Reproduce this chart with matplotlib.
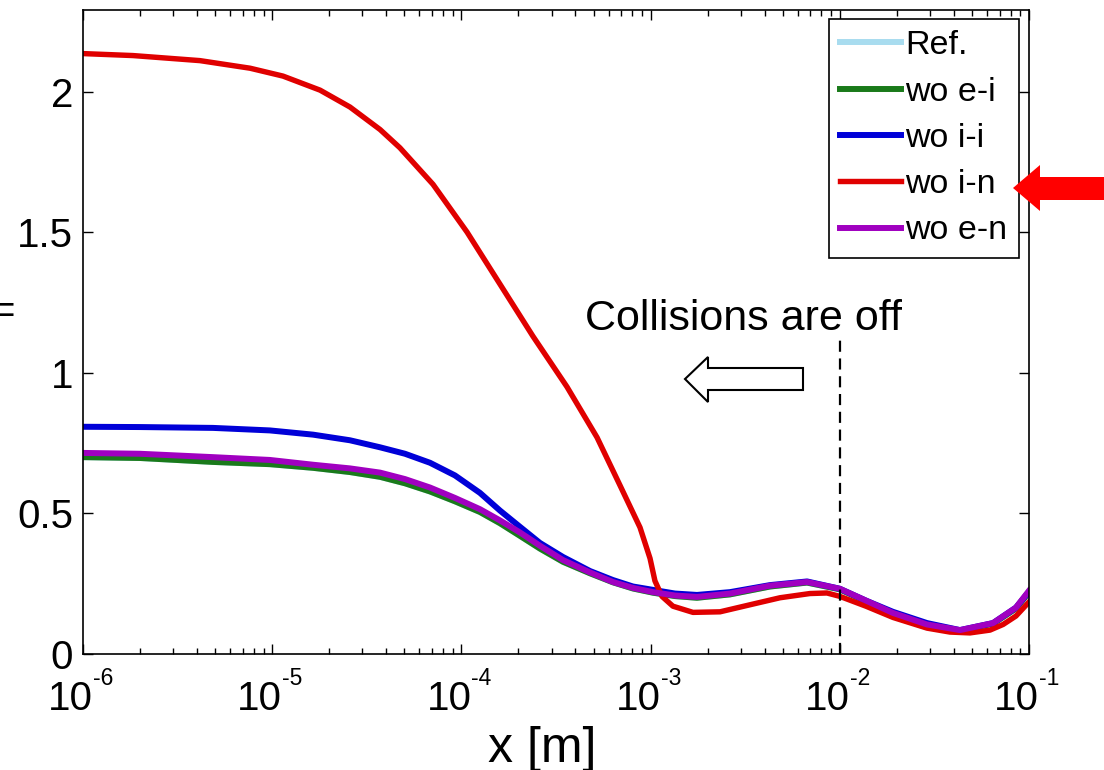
import numpy as np
import matplotlib
matplotlib.use('Agg')
import matplotlib.pyplot as plt
from matplotlib.patches import Polygon
from matplotlib.ticker import LogLocator, FixedLocator, FuncFormatter, NullFormatter
from matplotlib.transforms import ScaledTranslation

plt.rcParams['font.family'] = ['Liberation Sans', 'DejaVu Sans']

# x positions as log10(x [m])
x_cmn = [-6.0, -5.699, -5.313, -5.012, -4.784, -4.589, -4.430, -4.298,
         -4.166, -4.034, -3.902, -3.796, -3.690, -3.585, -3.463, -3.320,
         -3.199, -3.093, -2.987, -2.871, -2.755, -2.580, -2.369, -2.173,
         -2.0, -1.862, -1.719, -1.539, -1.365, -1.190, -1.069, -1.0]
y_woei = [0.70, 0.697, 0.683, 0.675, 0.662, 0.647, 0.63, 0.607,
          0.578, 0.543, 0.505, 0.465, 0.42, 0.375, 0.328, 0.287,
          0.255, 0.233, 0.218, 0.206, 0.20, 0.212, 0.24, 0.254,
          0.23, 0.188, 0.144, 0.103, 0.083, 0.108, 0.162, 0.22]
y_ref = list(y_woei)  # hidden under the other curves
y_woii = [0.808, 0.807, 0.804, 0.795, 0.78, 0.76, 0.735, 0.712,
          0.68, 0.635, 0.573, 0.51, 0.452, 0.395, 0.345, 0.295,
          0.263, 0.24, 0.228, 0.215, 0.21, 0.22, 0.245, 0.258,
          0.232, 0.19, 0.15, 0.11, 0.085, 0.11, 0.165, 0.222]
y_woen = [0.715, 0.712, 0.70, 0.69, 0.673, 0.66, 0.645, 0.622,
          0.592, 0.555, 0.515, 0.475, 0.432, 0.385, 0.334, 0.29,
          0.256, 0.235, 0.22, 0.208, 0.203, 0.215, 0.243, 0.256,
          0.232, 0.19, 0.146, 0.105, 0.085, 0.11, 0.165, 0.225]

x_woin = [-6.0, -5.736, -5.382, -5.117, -4.943, -4.747, -4.589, -4.430,
          -4.325, -4.150, -3.970, -3.796, -3.622, -3.442, -3.283, -3.162,
          -3.056, -3.003, -2.977, -2.940, -2.882, -2.776, -2.633, -2.475,
          -2.316, -2.158, -2.068, -2.0, -1.862, -1.719, -1.539, -1.418,
          -1.312, -1.206, -1.137, -1.069, -1.0]
y_woin = [2.135, 2.128, 2.11, 2.083, 2.055, 2.005, 1.945, 1.865,
          1.80, 1.67, 1.50, 1.315, 1.13, 0.95, 0.77, 0.60,
          0.45, 0.34, 0.26, 0.205, 0.17, 0.148, 0.15, 0.175,
          0.2, 0.215, 0.217, 0.205, 0.17, 0.13, 0.092, 0.078,
          0.075, 0.085, 0.105, 0.135, 0.185]

labels = ['Ref.', 'wo e-i', 'wo i-i', 'wo i-n', 'wo e-n']
colors = ['#a8dcef', '#1a7a1a', '#0000d8', '#e00000', '#a000c0']
xtick_exp = [-6, -5, -4, -3, -2, -1]
yticks = [0, 0.5, 1, 1.5, 2]

vline_x = 1e-2
vline_top = 1.12

fig = plt.figure(figsize=(11.04, 7.7), dpi=100)
ax = fig.add_axes([83/1104, 1-654/770, 946/1104, 644/770])

xc = np.power(10.0, x_cmn)
xr = np.power(10.0, x_woin)
lw = 4.3
ax.plot(xc, y_ref, color=colors[0], lw=lw, label=labels[0])
ax.plot(xc, y_woei, color=colors[1], lw=lw, label=labels[1])
ax.plot(xc, y_woii, color=colors[2], lw=lw, label=labels[2])
ax.plot(xr, y_woin, color=colors[3], lw=3.9, label=labels[3])
ax.plot(xc, y_woen, color=colors[4], lw=lw, label=labels[4])

ax.plot([vline_x, vline_x], [0, vline_top], color='k', lw=1.6,
        linestyle=(0, (5, 3)))

ax.set_xscale('log')
ax.set_xlim(1e-6, 1e-1)
ax.set_ylim(0, 2.29)

ax.xaxis.set_major_locator(FixedLocator([10.0**e for e in xtick_exp]))
ax.xaxis.set_minor_locator(LogLocator(base=10, subs=np.arange(2, 10), numticks=20))
ax.xaxis.set_major_formatter(NullFormatter())
ax.xaxis.set_minor_formatter(NullFormatter())
ax.yaxis.set_major_locator(FixedLocator(yticks))
ax.yaxis.set_major_formatter(FuncFormatter(lambda v, p: '%g' % v))

ax.tick_params(which='both', direction='in', top=True, right=True,
               labelsize=29, width=1.0)
ax.tick_params(which='major', length=7)
ax.tick_params(which='minor', length=4)
ax.tick_params(axis='y', pad=7)
for s in ax.spines.values():
    s.set_linewidth(1.2)

# MATLAB style 10^n tick labels
xtr = ax.get_xaxis_transform()
for e in xtick_exp:
    ax.text(10.0**e, 0, '10', fontsize=29, ha='right', va='baseline',
            transform=xtr + ScaledTranslation(0.10, -0.56, fig.dpi_scale_trans))
    ax.text(10.0**e, 0, '%d' % e, fontsize=16.5, ha='left', va='baseline',
            transform=xtr + ScaledTranslation(0.10, -0.31, fig.dpi_scale_trans))

ax.set_xlabel('x [m]', fontsize=36)
ax.xaxis.label.set_va('baseline')
ax.xaxis.set_label_coords(0.485, -0.168)

ax.text(4.5e-4, 1.153, 'Collisions are off', fontsize=31, va='baseline',
        ha='left')

leg = ax.legend(loc='upper right', bbox_to_anchor=(0.989, 0.986),
                borderaxespad=0, fontsize=24.5, handlelength=1.8,
                handletextpad=0.12, labelspacing=0.45, borderpad=0.33,
                fancybox=False, framealpha=1, edgecolor='k')
leg.get_frame().set_linewidth(1.2)

# "=" left over from the cut-off y label
fig.text(16/1104, 1-312/770, '=', fontsize=29, ha='right', va='center')


def px(pts):
    return [(x/1104, 1-y/770) for x, y in pts]


hollow = Polygon(px([(685, 379), (708, 357), (708, 368), (803, 368),
                     (803, 390), (708, 390), (708, 402)]), closed=True,
                 facecolor='white', edgecolor='k', lw=1.5,
                 transform=fig.transFigure)
fig.add_artist(hollow)
red_arrow = Polygon(px([(1013, 188), (1040, 165), (1040, 177), (1104, 177),
                        (1104, 200), (1040, 200), (1040, 211)]), closed=True,
                    facecolor='#ff0000', edgecolor='none',
                    transform=fig.transFigure)
fig.add_artist(red_arrow)

fig.savefig('out.png', dpi=100)
